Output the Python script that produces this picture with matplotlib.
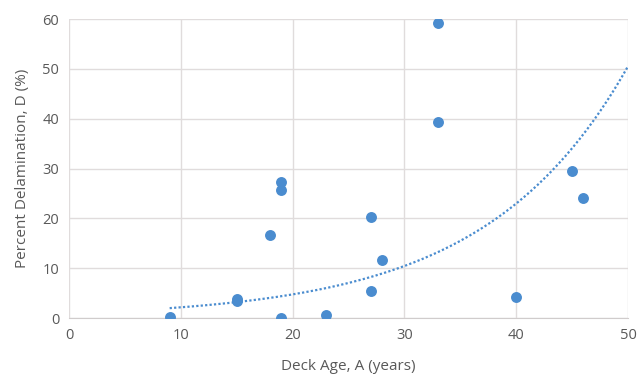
import numpy as np
import matplotlib
matplotlib.use("Agg")
import matplotlib.pyplot as plt

# deck age (years) and percent delamination
deck_age = [9, 15, 15, 18, 19, 19, 19, 23, 27, 27, 28, 33, 33, 40, 45, 46]
delamination = [0.3, 3.9, 3.4, 16.6, 27.3, 25.7, 0.1, 0.7, 20.3, 5.5, 11.7, 59.2, 39.4, 4.3, 29.5, 24.1]

# exponential trendline D = a * exp(b * A), shown from A=9 to A=50
trend_a = 0.984
trend_b = 0.0788
trend_range = (9, 50)

blue = "#4a8ccf"
grey_text = "#595959"

plt.rcParams["font.family"] = ["Open Sans", "DejaVu Sans"]

fig = plt.figure(figsize=(6.39, 3.76), dpi=100)
ax = fig.add_axes([0.108, 0.154, 0.875, 0.795])

ax.scatter(deck_age, delamination, s=62, color=blue, zorder=3, linewidths=0)

trend_x = np.linspace(trend_range[0], trend_range[1], 200)
ax.plot(trend_x, trend_a * np.exp(trend_b * trend_x), color=blue,
        linestyle=(0, (1, 1)), linewidth=1.6, zorder=2)

ax.set_xlim(0, 50)
ax.set_ylim(0, 60)
ax.set_xticks(range(0, 51, 10))
ax.set_yticks(range(0, 61, 10))
ax.grid(True, color="#e0dcdc", linewidth=1)
ax.set_axisbelow(True)
for side in ["top", "right", "left"]:
    ax.spines[side].set_visible(False)
ax.spines["bottom"].set_color("#d0cccc")
ax.tick_params(length=0, labelsize=10.5, colors=grey_text, pad=7)

ax.set_xlabel("Deck Age, A (years)", fontsize=11, color=grey_text, labelpad=12)
ax.set_ylabel("Percent Delamination, D (%)", fontsize=11, color=grey_text, labelpad=9)

fig.savefig("out.png", dpi=100)
